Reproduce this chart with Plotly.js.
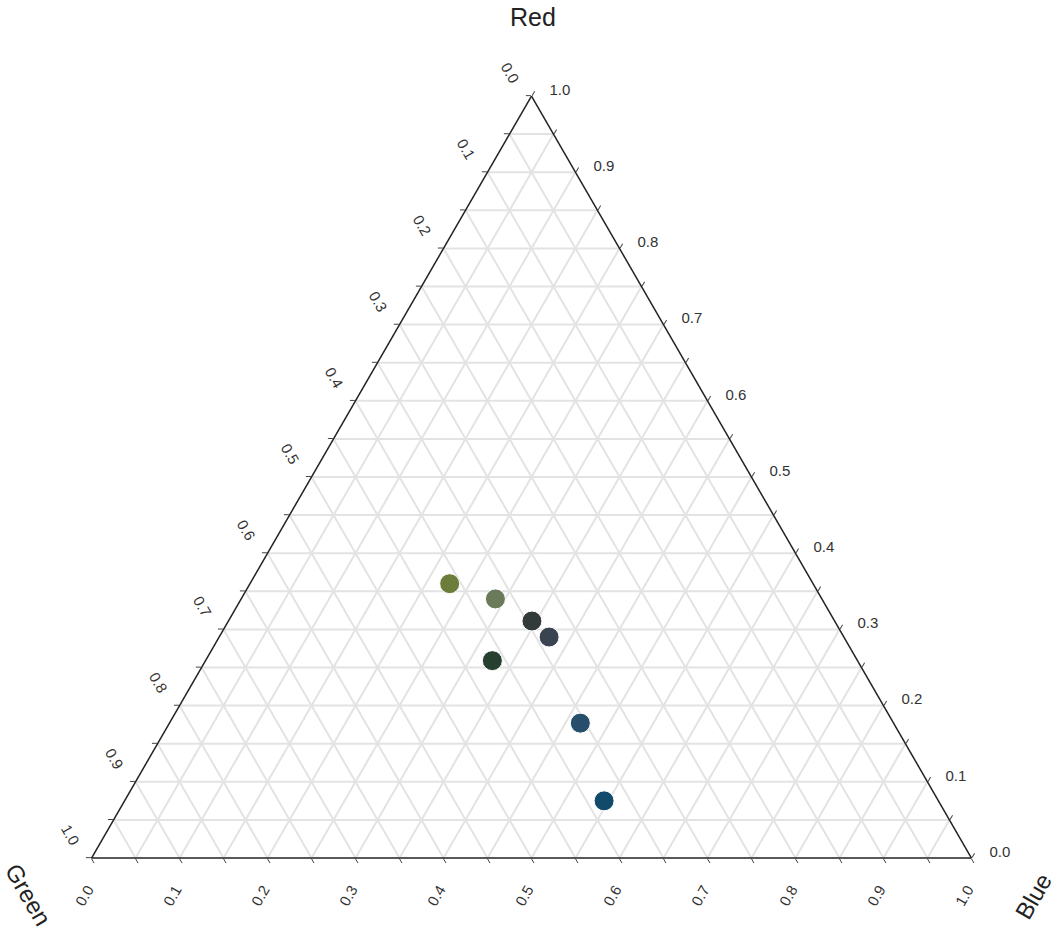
<!DOCTYPE html>
<html>
<head>
<meta charset="utf-8">
<script src="https://cdn.plot.ly/plotly-3.0.1.min.js"></script>
<style>html,body{margin:0;padding:0;background:#fff;}#chart{width:1057px;height:932px;}</style>
</head>
<body>
<div id="chart"></div>
<script>
// Data: composition of each colour (Red, Green, Blue shares)
var redShare   = [0.360, 0.340, 0.311, 0.290, 0.259, 0.177, 0.075];
var greenShare = [0.413, 0.371, 0.344, 0.335, 0.415, 0.356, 0.380];
var blueShare  = [0.227, 0.289, 0.345, 0.375, 0.326, 0.467, 0.545];
var pointColors = ['#6c7d3b', '#6b7a5a', '#323a3a', '#3a4350', '#263f2e', '#274f6b', '#114a6b'];

// Tick positions and the labels printed along each edge
var tickVals = [0, 0.05, 0.1, 0.15, 0.2, 0.25, 0.3, 0.35, 0.4, 0.45, 0.5,
                0.55, 0.6, 0.65, 0.7, 0.75, 0.8, 0.85, 0.9, 0.95, 1];
var edgeTickText = ['1.0', '', '0.9', '', '0.8', '', '0.7', '', '0.6', '', '0.5',
                    '', '0.4', '', '0.3', '', '0.2', '', '0.1', '', '0.0'];
var axisTitles = ['Red', 'Green', 'Blue'];

var pad = '\u00a0\u00a0\u00a0';
var suffixText = edgeTickText.map(function (t) { return t ? t + pad : t; });
var prefixText = edgeTickText.map(function (t) { return t ? pad + t : t; });

var trace = {
  type: 'scatterternary',
  mode: 'markers',
  a: redShare,
  b: greenShare,
  c: blueShare,
  marker: {size: 20, color: pointColors, line: {color: '#ffffff', width: 1}},
  hoverinfo: 'a+b+c',
  showlegend: false
};

function axisStyle(angle, labels) {
  return {
    title: {text: ''},
    tickmode: 'array',
    tickvals: tickVals,
    ticktext: labels,
    tickangle: angle,
    ticks: 'outside',
    ticklen: 5,
    tickwidth: 1,
    tickcolor: '#444',
    tickfont: {family: 'Liberation Sans, Arial, sans-serif', size: 15, color: '#333'},
    showline: true,
    linecolor: '#222',
    linewidth: 1.5,
    showgrid: true,
    gridcolor: '#e3e3e3',
    gridwidth: 1.5
  };
}

var titleFont = {family: 'Liberation Sans, Arial, sans-serif', size: 24, color: '#222'};

var layout = {
  width: 1057,
  height: 932,
  margin: {l: 91, r: 85, t: 96, b: 74},
  paper_bgcolor: '#ffffff',
  showlegend: false,
  ternary: {
    sum: 1,
    bgcolor: '#ffffff',
    aaxis: axisStyle(60, suffixText),
    baxis: axisStyle(-60, suffixText),
    caxis: axisStyle(0, prefixText)
  },
  annotations: [
    {text: axisTitles[0], xref: 'paper', yref: 'paper', x: 0.5017, y: 1.1037,
     xanchor: 'center', yanchor: 'middle', showarrow: false, font: {family: titleFont.family, size: 25, color: titleFont.color}},
    {text: axisTitles[1], xref: 'paper', yref: 'paper', x: -0.0704, y: -0.0486,
     xanchor: 'center', yanchor: 'middle', textangle: 60, showarrow: false, font: titleFont},
    {text: axisTitles[2], xref: 'paper', yref: 'paper', x: 1.0692, y: -0.0499,
     xanchor: 'center', yanchor: 'middle', textangle: -60, showarrow: false, font: titleFont}
  ]
};

Plotly.newPlot('chart', [trace], layout, {displayModeBar: false, responsive: false});
</script>
</body>
</html>
